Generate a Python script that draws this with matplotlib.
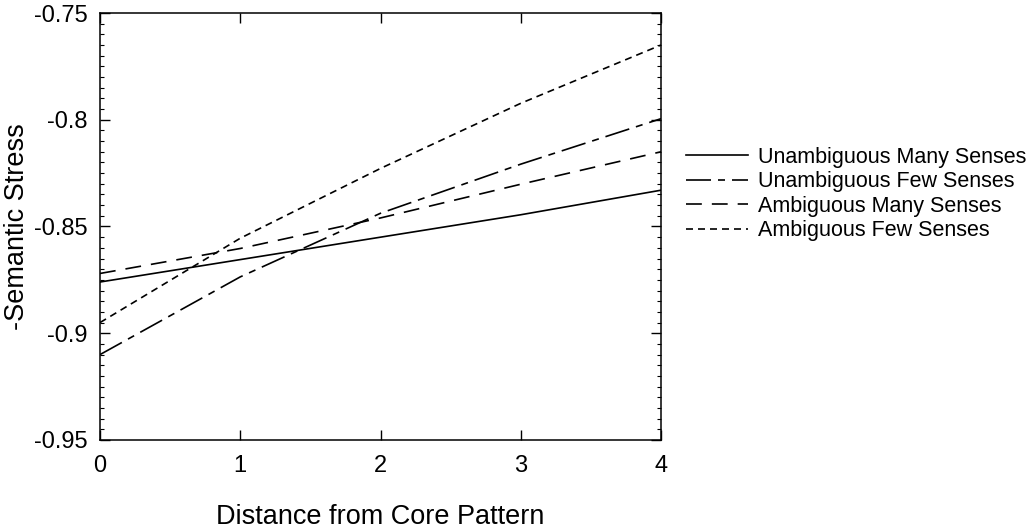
import matplotlib
matplotlib.use("Agg")
import matplotlib.pyplot as plt
from matplotlib.ticker import MultipleLocator

plt.rcParams['font.family'] = ['Liberation Sans', 'DejaVu Sans']
plt.rcParams['axes.unicode_minus'] = False

distance = [0, 1, 2, 3, 4]
unamb_many = [-0.876, -0.8655, -0.855, -0.8445, -0.833]
unamb_few = [-0.910, -0.8736, -0.8438, -0.8208, -0.7995]
amb_many = [-0.872, -0.8603, -0.846, -0.8302, -0.815]
amb_few = [-0.895, -0.8555, -0.8228, -0.7923, -0.765]

series_labels = ["Unambiguous Many Senses", "Unambiguous Few Senses",
                 "Ambiguous Many Senses", "Ambiguous Few Senses"]
xtick_values = [0, 1, 2, 3, 4]
ytick_values = [-0.95, -0.9, -0.85, -0.8, -0.75]
ytick_labels = ["-0.95", "-0.9", "-0.85", "-0.8", "-0.75"]

fig = plt.figure(figsize=(10.33, 5.31), dpi=100)
ax = fig.add_axes([100 / 1033, 1 - 440 / 531, 561 / 1033, 427 / 531])

# dash lengths are in units of line width
lw = 1.2
ax.plot(distance, unamb_many, color="black", lw=lw, linestyle="-", label=series_labels[0])
ax.plot(distance, unamb_few, color="black", lw=lw, linestyle=(0, (15, 4.2, 4.2, 4.2)), label=series_labels[1])
ax.plot(distance, amb_many, color="black", lw=lw, linestyle=(0, (9.5, 6)), label=series_labels[2])
ax.plot(distance, amb_few, color="black", lw=lw, linestyle=(0, (4.2, 3)), label=series_labels[3])

ax.set_xlim(0, 4)
ax.set_ylim(-0.95, -0.75)
ax.set_xticks(xtick_values)
ax.set_xticklabels([str(v) for v in xtick_values])
ax.set_yticks(ytick_values)
ax.set_yticklabels(ytick_labels)
ax.yaxis.set_minor_locator(MultipleLocator(0.005))

ax.tick_params(axis='both', which='major', direction='in', length=7, width=1.0,
               top=True, right=True, labelsize=17, color="black")
ax.tick_params(axis='x', which='major', pad=11)
ax.tick_params(axis='y', which='major', pad=9)
ax.tick_params(axis='y', which='minor', direction='in', length=3, width=0.8,
               left=True, right=True)
for sp in ax.spines.values():
    sp.set_linewidth(1.1)

ax.set_xlabel("Distance from Core Pattern", fontsize=19.5, labelpad=19)
ax.set_ylabel("-Semantic Stress", fontsize=19.5, labelpad=3)

leg = fig.legend(loc="center left", bbox_to_anchor=(686 / 1033, 1 - 194 / 531),
                 frameon=False, fontsize=15.5, handlelength=2.9, handletextpad=0.45,
                 labelspacing=0.16, borderpad=0, borderaxespad=0)

plt.savefig("out.png", dpi=100)
